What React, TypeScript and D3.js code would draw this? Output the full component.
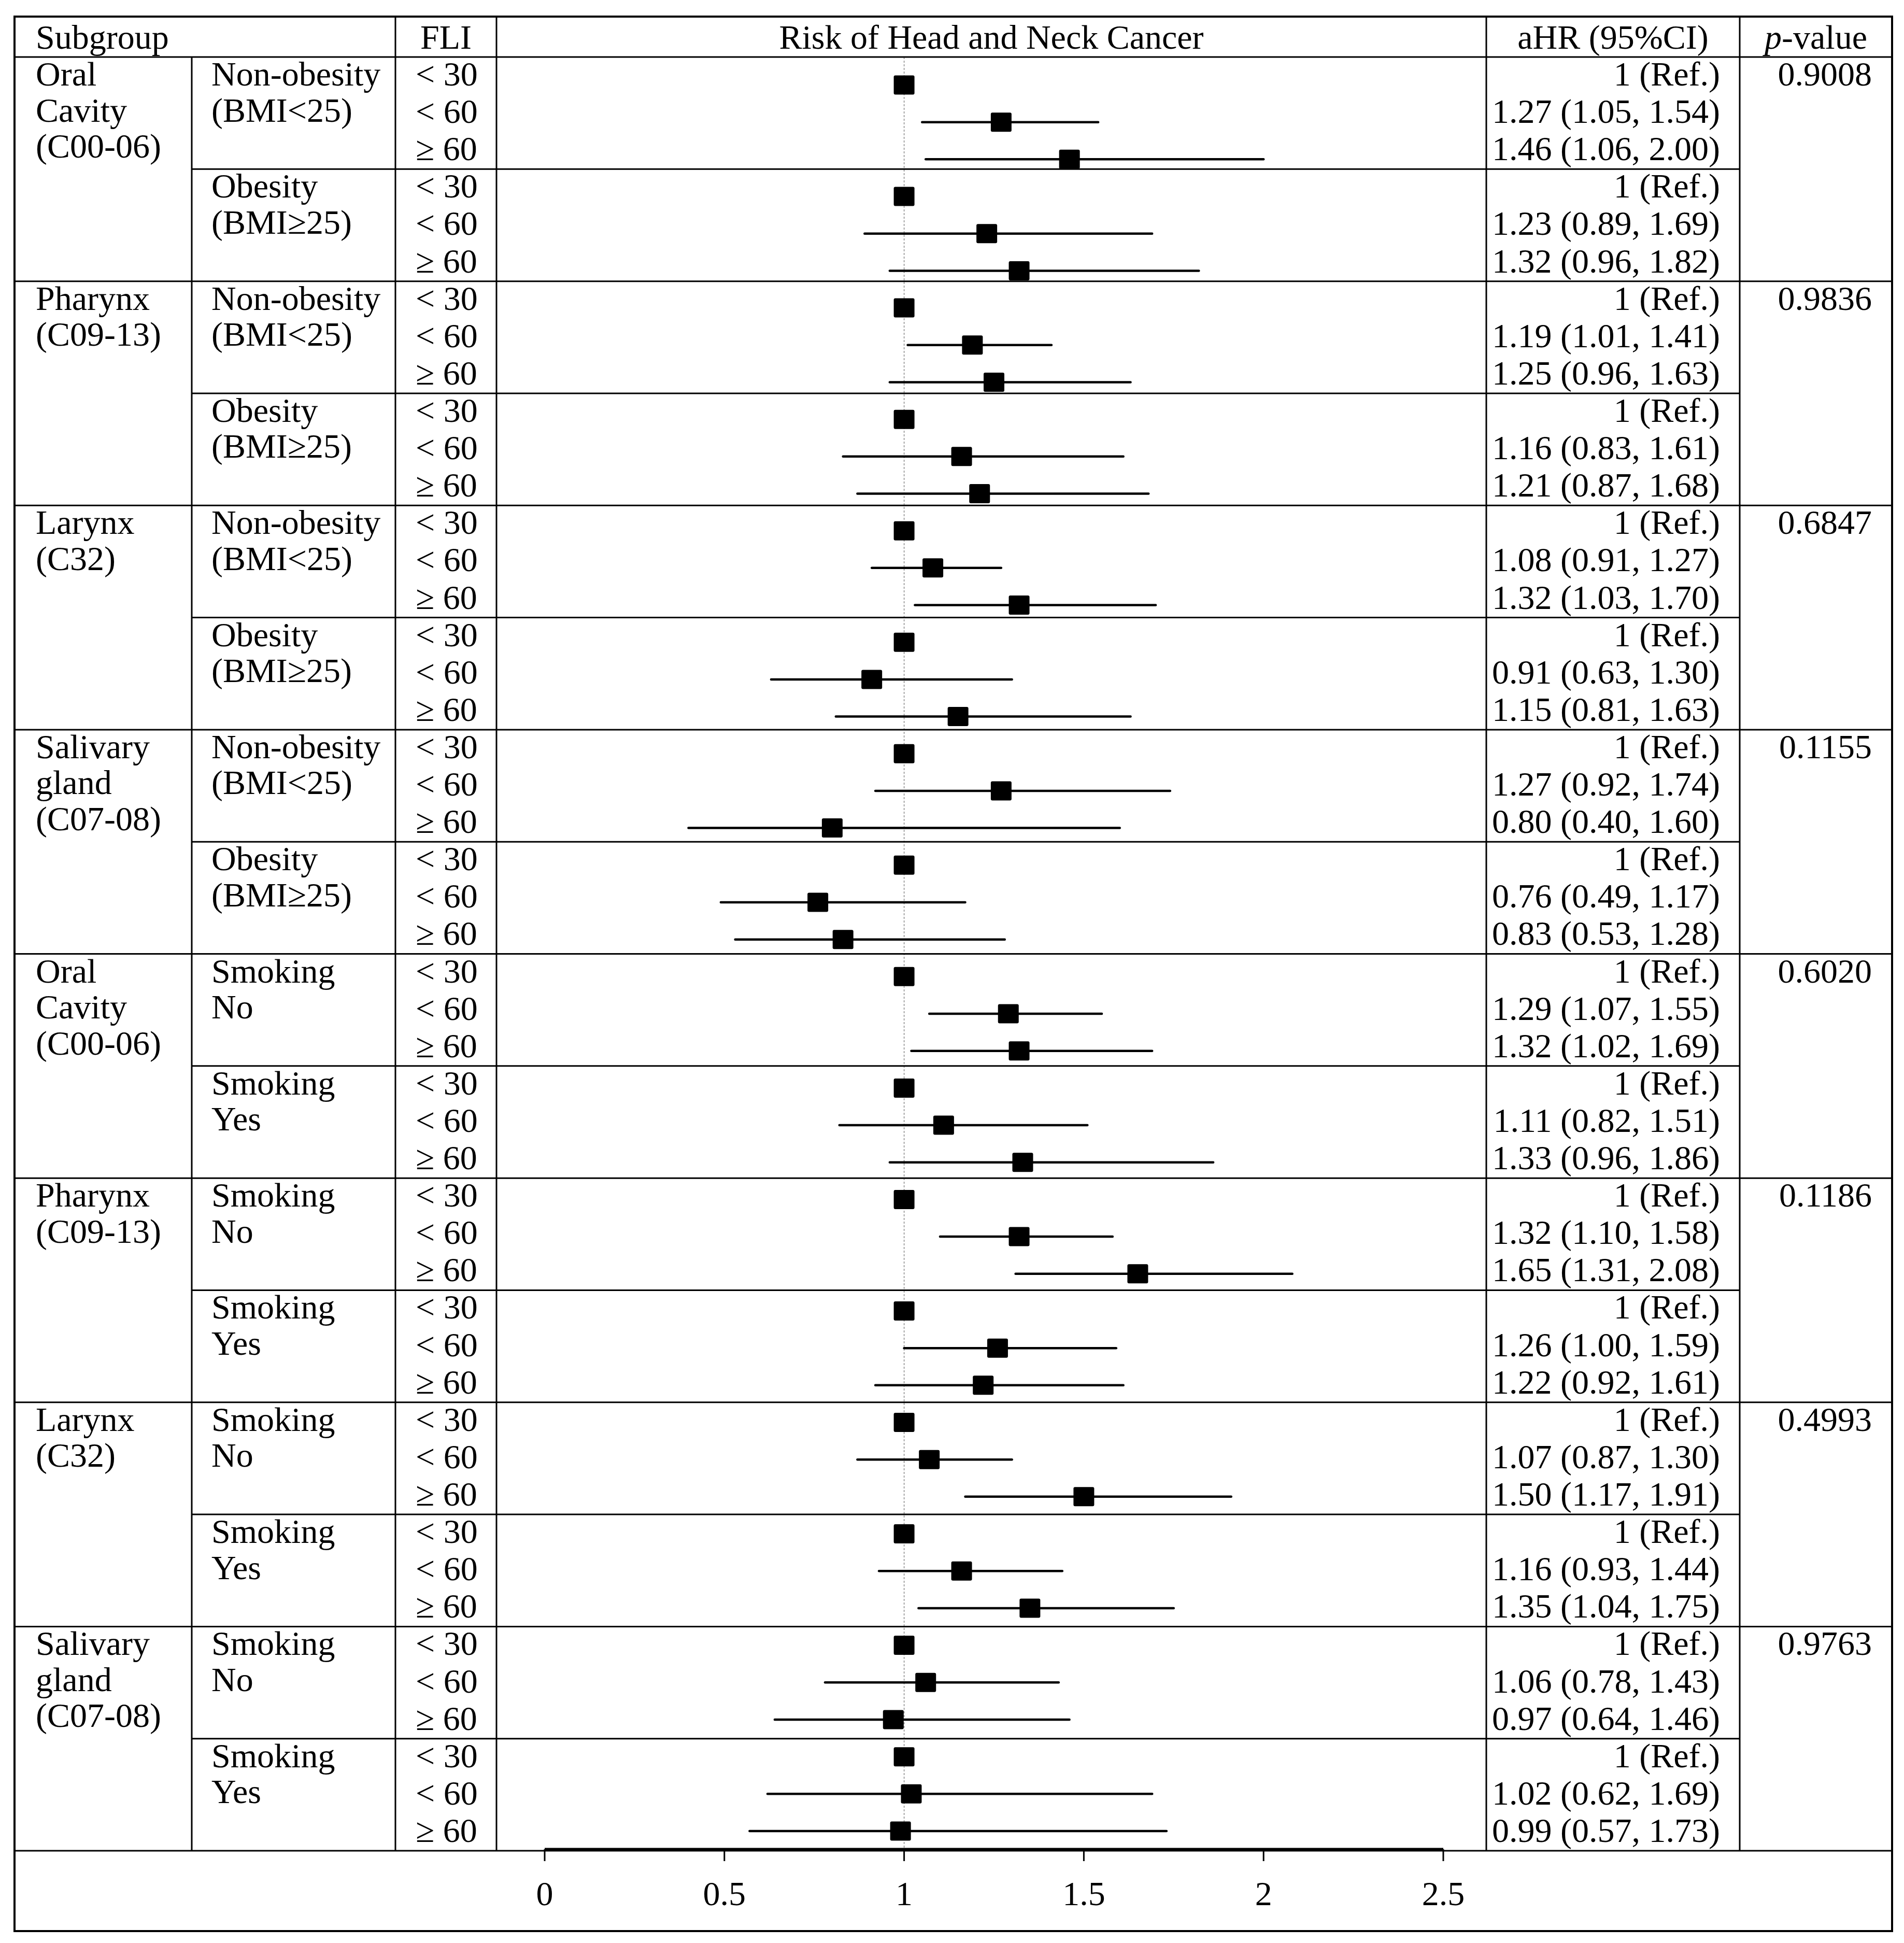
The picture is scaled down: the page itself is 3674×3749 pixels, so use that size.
import * as d3 from 'd3'

// cancer sites, each listed once per stratification (BMI first, then smoking)
const siteLabels = [
  ['Oral', 'Cavity', '(C00-06)'],
  ['Pharynx', '(C09-13)'],
  ['Larynx', '(C32)'],
  ['Salivary', 'gland', '(C07-08)'],
  ['Oral', 'Cavity', '(C00-06)'],
  ['Pharynx', '(C09-13)'],
  ['Larynx', '(C32)'],
  ['Salivary', 'gland', '(C07-08)'],
]
const bmiStrata = [['Non-obesity', '(BMI<25)'], ['Obesity', '(BMI≥25)']]
const smokeStrata = [['Smoking', 'No'], ['Smoking', 'Yes']]
const fliLevels = ['< 30', '< 60', '≥ 60']
const pValues = ['0.9008', '0.9836', '0.6847', '0.1155', '0.6020', '0.1186', '0.4993', '0.9763']

// null = reference category
const hr = [
  null, 1.27, 1.46, null, 1.23, 1.32,
  null, 1.19, 1.25, null, 1.16, 1.21,
  null, 1.08, 1.32, null, 0.91, 1.15,
  null, 1.27, 0.80, null, 0.76, 0.83,
  null, 1.29, 1.32, null, 1.11, 1.33,
  null, 1.32, 1.65, null, 1.26, 1.22,
  null, 1.07, 1.50, null, 1.16, 1.35,
  null, 1.06, 0.97, null, 1.02, 0.99,
]
const lower = [
  null, 1.05, 1.06, null, 0.89, 0.96,
  null, 1.01, 0.96, null, 0.83, 0.87,
  null, 0.91, 1.03, null, 0.63, 0.81,
  null, 0.92, 0.40, null, 0.49, 0.53,
  null, 1.07, 1.02, null, 0.82, 0.96,
  null, 1.10, 1.31, null, 1.00, 0.92,
  null, 0.87, 1.17, null, 0.93, 1.04,
  null, 0.78, 0.64, null, 0.62, 0.57,
]
const upper = [
  null, 1.54, 2.00, null, 1.69, 1.82,
  null, 1.41, 1.63, null, 1.61, 1.68,
  null, 1.27, 1.70, null, 1.30, 1.63,
  null, 1.74, 1.60, null, 1.17, 1.28,
  null, 1.55, 1.69, null, 1.51, 1.86,
  null, 1.58, 2.08, null, 1.59, 1.61,
  null, 1.30, 1.91, null, 1.44, 1.75,
  null, 1.43, 1.46, null, 1.69, 1.73,
]
const ticks = [0, 0.5, 1, 1.5, 2, 2.5]

const W = 3674
const H = 3749
const font = '"Liberation Serif", "Times New Roman", serif'
const fs = 66

export default function App() {
  const left = 28, right = 3651, top = 32, bottom = 3726
  const headBottom = 110, axisY = 3571
  const c1 = 370, c2 = 763, c3 = 958, c4 = 2868, c5 = 3357
  const nRows = hr.length

  const x = d3.scaleLinear().domain([0, 2.5]).range([1051, 2785])
  const y = d3.scaleLinear().domain([0, nRows]).range([headBottom, axisY])
  // the plot panel's rows are spaced a little tighter than the table's
  const my = d3.scaleLinear().domain([0, nRows - 1]).range([164, 3533])
  const rowC = (i: number) => y(i + 0.5)
  const lineGap = 69.5
  const sqW = 40, sqH = 37

  const fmt = (v: number) => v.toFixed(2)

  return (
    <svg width={W} height={H} viewBox={`0 0 ${W} ${H}`}
      style={{ position: 'absolute', left: 0, top: 0, background: '#fff' }}
      fontFamily={font} fontSize={fs} fill="#000">
      {/* reference line at HR = 1 */}
      <line x1={x(1)} x2={x(1)} y1={headBottom} y2={axisY} stroke="#8a8a8a" strokeWidth={1.5} strokeDasharray="4,3" />

      {/* table grid */}
      <g stroke="#000" strokeWidth={3}>
        <line x1={left} x2={right} y1={headBottom} y2={headBottom} />
        <line x1={left} x2={right} y1={axisY} y2={axisY} />
        {siteLabels.map((_, g) => (
          <g key={g}>
            {g > 0 && <line x1={left} x2={right} y1={y(g * 6)} y2={y(g * 6)} />}
            <line x1={c1} x2={c5} y1={y(g * 6 + 3)} y2={y(g * 6 + 3)} />
          </g>
        ))}
        <line x1={c1} x2={c1} y1={headBottom} y2={axisY} />
        {[c2, c3, c4, c5].map(cx => <line key={cx} x1={cx} x2={cx} y1={top} y2={axisY} />)}
        <rect x={left} y={top} width={right - left} height={bottom - top} fill="none" strokeWidth={4} />
      </g>

      {/* header */}
      <text x={69} y={94}>Subgroup</text>
      <text x={(c2 + c3) / 2} y={94} textAnchor="middle">FLI</text>
      <text x={(c3 + c4) / 2} y={94} textAnchor="middle">Risk of Head and Neck Cancer</text>
      <text x={(c4 + c5) / 2} y={94} textAnchor="middle">aHR (95%CI)</text>
      <text x={(c5 + right) / 2} y={94} textAnchor="middle"><tspan fontStyle="italic">p</tspan>-value</text>

      {/* group labels, strata, p-values */}
      {siteLabels.map((lines, g) => {
        const strata = g < 4 ? bmiStrata : smokeStrata
        const base = rowC(g * 6) + 19
        return (
          <g key={g}>
            {lines.map((t, k) => <text key={k} x={69} y={base + k * lineGap}>{t}</text>)}
            {strata.map((s, si) => s.map((t, k) => (
              <text key={`${si}-${k}`} x={408} y={rowC(g * 6 + si * 3) + 19 + k * lineGap}>{t}</text>
            )))}
            <text x={3612} y={base} textAnchor="end">{pValues[g]}</text>
          </g>
        )
      })}

      {/* rows */}
      {hr.map((v, i) => {
        const cy = rowC(i)
        const py = my(i)
        const lo = lower[i], hi = upper[i]
        const est = v ?? 1
        return (
          <g key={i}>
            <text x={802} y={cy + 19}>{fliLevels[i % 3]}</text>
            <text x={3319} y={cy + 19} textAnchor="end">
              {v == null ? '1 (Ref.)' : `${fmt(v)} (${fmt(lo!)}, ${fmt(hi!)})`}
            </text>
            {lo != null && hi != null && (
              <line x1={x(lo)} x2={x(hi)} y1={py} y2={py} stroke="#000" strokeWidth={4.5} strokeLinecap="round" />
            )}
            <rect x={x(est) - sqW / 2} y={py - sqH / 2} width={sqW} height={sqH} rx={3} fill="#000" />
          </g>
        )
      })}

      {/* x axis */}
      <line x1={x(0)} x2={x(2.5)} y1={axisY - 3} y2={axisY - 3} stroke="#000" strokeWidth={5} />
      {ticks.map(t => (
        <g key={t}>
          <line x1={x(t)} x2={x(t)} y1={axisY - 3} y2={axisY + 20} stroke="#000" strokeWidth={3} />
          <text x={x(t)} y={3676} textAnchor="middle">{String(t)}</text>
        </g>
      ))}
    </svg>
  )
}
